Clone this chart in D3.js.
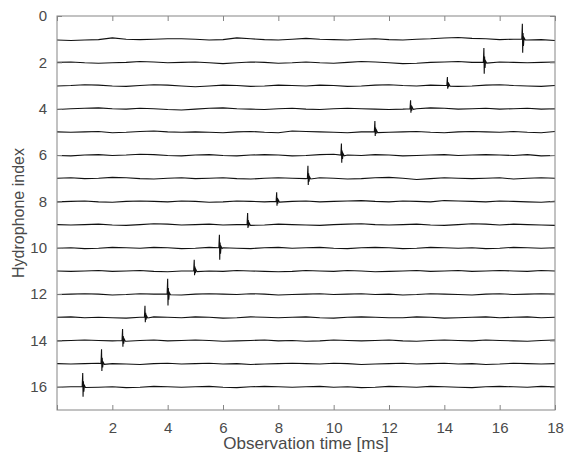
<!DOCTYPE html>
<html>
<head>
<meta charset="utf-8">
<script src="https://cdn.jsdelivr.net/npm/d3@7"></script>
<style>
  body { margin: 0; background: #fff; }
  text { font-family: "Liberation Sans", Arial, sans-serif; }
</style>
</head>
<body>
<div id="main"></div>
<script>
// chart size and plot box (pixels)
const ctx = {width: 565, height: 454,
  left: 57, right: 555, top: 16, bottom: 410,
  step: 0.5,      // ms between wiggle samples
  gain: 0.018     // trace offset per wiggle unit
};

// hydrophone index of each trace
const hydrophones = [1, 2, 3, 4, 5, 6, 7, 8, 9, 10, 11, 12, 13, 14, 15, 16];
// arrival time of the pulse on each hydrophone [ms]
const spikeTimes = [16.82, 15.43, 14.11, 12.78, 11.49, 10.28, 9.07, 7.94, 6.89, 5.87, 4.96, 4.0, 3.18, 2.37, 1.61, 0.93];
// pulse extent above (negative) and below the trace baseline, in index units
const spikeUp   = [-0.67, -0.62, -0.37, -0.36, -0.47, -0.50, -0.54, -0.39, -0.50, -0.56, -0.48, -0.66, -0.50, -0.49, -0.62, -0.60];
const spikeDown = [0.58, 0.49, 0.14, 0.17, 0.18, 0.33, 0.29, 0.19, 0.15, 0.52, 0.19, 0.49, 0.21, 0.27, 0.32, 0.43];
// background wiggle of each trace, sampled every 0.5 ms from 0 to 18 ms
const wiggle = [
  [2,3,2,1,-3,0,1,0,-1,-1, 0,2,1,-3,-1,1,2,0,-2,0, 1,2,0,-1,1,2,0,-1,-3,-4, -2,-1,1,0,2,1,3],
  [0,-1,1,2,1,0,-2,-1,1,0, -1,1,3,1,-1,0,2,1,-1,1, 2,0,-2,-1,1,3,2,0,-1,-2, 0,1,-1,0,1,0,-1],
  [1,0,-2,-1,1,2,0,-2,-1,1, 3,1,-1,0,2,1,-1,0,1,-1, 0,2,1,-1,-2,0,1,-1,0,2, 1,-1,-2,0,1,2,0],
  [2,0,-1,-2,0,1,-1,0,2,3, 1,-1,-2,0,1,2,0,-1,1,2, 0,-1,0,1,2,1,0,-2,-1,1, 0,-1,1,0,-1,1,0],
  [0,1,0,-1,2,1,-1,-2,0,1, 0,1,2,0,-1,1,2,-2,-1,0, 1,2,0,-1,1,0,-1,1,2,0, -1,0,1,-1,1,2,-1],
  [1,2,0,-1,1,0,-2,-1,1,2, 0,-1,1,2,0,-1,0,2,1,-1, -2,0,1,-1,0,2,1,0,-1,1, 0,-1,0,1,-1,2,1],
  [0,-1,1,0,-2,-1,1,2,0,-1, 1,0,-1,1,2,0,-1,0,1,-1, 0,2,1,-1,-2,0,3,1,-1,0, 1,0,-1,2,0,-1,0],
  [1,0,-1,1,2,0,-1,0,1,-1, 0,2,1,-1,0,1,2,0,-1,1, 0,-1,-2,0,1,-1,0,1,-2,-1, 0,1,-1,0,1,2,0],
  [0,1,0,-1,1,2,0,-2,-1,1, 0,-1,1,0,2,1,-1,0,1,2, 0,-1,-2,0,1,0,-1,1,2,0, -2,-1,1,-1,0,1,2],
  [1,0,2,1,-1,0,1,-1,0,2, 1,-1,0,1,2,0,-1,1,0,-1, 1,2,0,-1,0,2,1,-1,0,1, 0,2,1,-1,0,1,0],
  [0,1,0,-1,1,0,-1,1,2,0, -1,0,1,-1,0,1,2,1,-1,0, 1,-1,0,2,1,0,-1,1,0,-1, 1,0,-1,0,1,-1,0],
  [1,0,-1,0,2,1,-1,0,1,2, 0,-1,0,1,-1,0,2,1,0,-1, 1,0,-1,1,0,2,1,-1,0,1, 2,0,-1,1,0,-1,0],
  [0,-1,1,0,1,2,0,-1,0,1, -1,0,2,1,-1,0,1,0,-1,1, 2,0,-1,0,1,1,-1,0,2,1, 0,-1,1,0,-1,1,0],
  [1,0,-1,0,1,2,0,-1,1,0, -1,0,2,1,0,-1,1,0,2,1, -1,0,1,0,-1,1,2,0,-1,0, 1,-1,0,1,2,0,-1],
  [0,1,0,-1,0,1,2,0,-1,1, 0,-1,1,0,2,1,0,-1,0,1, -1,0,2,1,0,-1,1,0,-1,1, 0,2,1,-1,0,1,0],
  [1,0,-1,1,0,2,1,-1,0,1, 0,-1,1,2,0,-1,0,1,0,-1, 1,0,2,1,-1,0,1,-1,0,1, 2,0,-1,0,1,-1,0]
];
const xTicks = [0, 2, 4, 6, 8, 10, 12, 14, 16, 18];
const yTicks = [0, 2, 4, 6, 8, 10, 12, 14, 16];

const axisColor = "#858585";
const textColor = "#4a4a4a";

function createViz(){
  let svg = d3.select("#main")
    .append("svg")
      .attr("width", ctx.width)
      .attr("height", ctx.height);

  let x = d3.scaleLinear().domain([0, 18]).range([ctx.left, ctx.right]);
  let y = d3.scaleLinear().domain([0, 17]).range([ctx.top, ctx.bottom]);

  svg.append("clipPath").attr("id", "plotClip")
    .append("rect")
      .attr("x", ctx.left).attr("y", ctx.top)
      .attr("width", ctx.right - ctx.left).attr("height", ctx.bottom - ctx.top);

  // build each trace: wiggle samples plus the pulse at its arrival time
  let traces = hydrophones.map(function(h, i){
    let pts = wiggle[i].map(function(v, j){ return [j * ctx.step, h + v * ctx.gain]; });
    let t0 = spikeTimes[i];
    let pulse = [
      [t0 - 0.02, h],
      [t0, h + spikeUp[i]],
      [t0 + 0.012, h + spikeDown[i]],
      [t0 + 0.025, h + spikeUp[i] * 0.4],
      [t0 + 0.04, h + spikeDown[i] * 0.5],
      [t0 + 0.06, h - 0.06],
      [t0 + 0.1, h + 0.03]
    ];
    pts = pts.filter(function(p){ return p[0] < t0 - 0.02 || p[0] > t0 + 0.1; })
      .concat(pulse)
      .sort(function(a, b){ return a[0] - b[0]; });
    return pts;
  });

  let line = d3.line()
    .x(function(d){ return x(d[0]); })
    .y(function(d){ return y(d[1]); });

  svg.append("g")
    .attr("clip-path", "url(#plotClip)")
    .selectAll("path")
    .data(traces)
    .enter().append("path")
      .attr("d", line)
      .attr("fill", "none")
      .attr("stroke", "#111")
      .attr("stroke-width", 1.1);

  // axes, ticks pointing inward, mirrored on top and right
  let bottomAxis = svg.append("g")
    .attr("transform", "translate(0," + ctx.bottom + ")")
    .call(d3.axisBottom(x).tickValues(xTicks).tickSizeInner(-5).tickSizeOuter(0).tickPadding(12)
      .tickFormat(function(d){ return d === 0 ? "" : d; }));
  let topAxis = svg.append("g")
    .attr("transform", "translate(0," + ctx.top + ")")
    .call(d3.axisTop(x).tickValues(xTicks).tickSizeInner(-5).tickSizeOuter(0).tickFormat(""));
  let leftAxis = svg.append("g")
    .attr("transform", "translate(" + ctx.left + ",0)")
    .call(d3.axisLeft(y).tickValues(yTicks).tickSizeInner(-5).tickSizeOuter(0).tickPadding(10));
  let rightAxis = svg.append("g")
    .attr("transform", "translate(" + ctx.right + ",0)")
    .call(d3.axisRight(y).tickValues(yTicks).tickSizeInner(-5).tickSizeOuter(0).tickFormat(""));

  [bottomAxis, topAxis, leftAxis, rightAxis].forEach(function(a){
    a.select(".domain").remove();
    a.selectAll(".tick line").attr("stroke", axisColor);
    a.selectAll(".tick text")
      .attr("fill", textColor)
      .style("font-size", "15px");
  });

  svg.append("rect")
    .attr("x", ctx.left).attr("y", ctx.top)
    .attr("width", ctx.right - ctx.left).attr("height", ctx.bottom - ctx.top)
    .attr("fill", "none")
    .attr("stroke", axisColor)
    .attr("stroke-width", 1);

  svg.append("text")
    .attr("x", (ctx.left + ctx.right) / 2)
    .attr("y", 449)
    .attr("text-anchor", "middle")
    .attr("fill", textColor)
    .style("font-size", "17px")
    .text("Observation time [ms]");

  svg.append("text")
    .attr("transform", "translate(24," + ((ctx.top + ctx.bottom) / 2) + ") rotate(-90)")
    .attr("text-anchor", "middle")
    .attr("fill", textColor)
    .style("font-size", "16px")
    .text("Hydrophone index");
}

createViz();
</script>
</body>
</html>
